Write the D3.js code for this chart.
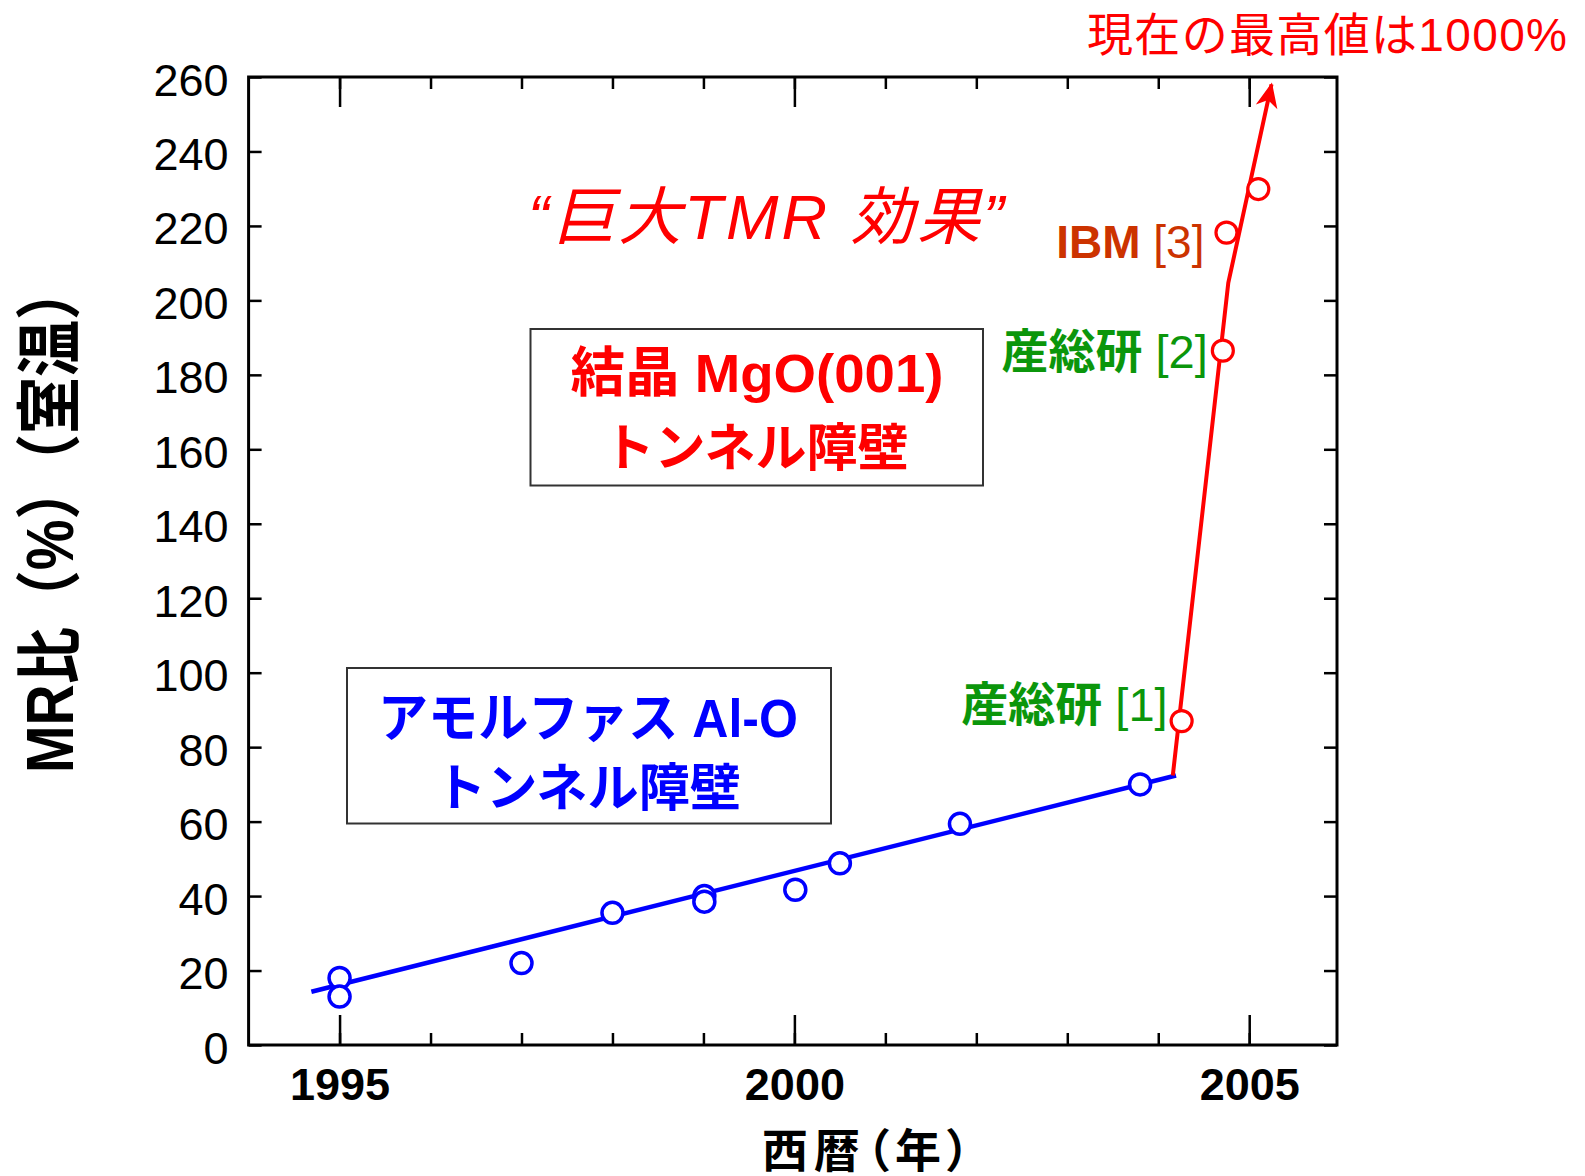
<!DOCTYPE html>
<html>
<head>
<meta charset="utf-8">
<script src="https://cdn.jsdelivr.net/npm/d3@7"></script>
<style>
  body { margin: 0; background: #fff; }
  text { font-family: "Liberation Sans", Arial, "Noto Sans CJK JP", sans-serif; }
  .axis line { stroke: #000; stroke-width: 2.5; }
  .axis path { display: none; }
</style>
</head>
<body>
<svg id="chart" width="1585" height="1176"></svg>
<script>
// amorphous Al-O barrier (blue)
var blueYear = [1995, 1995, 1997, 1998, 1999.01, 1999.01, 2000.01, 2000.5, 2001.82, 2003.8];
var blueMR = [18, 13, 22, 35.5, 40, 38.5, 41.7, 48.8, 59.4, 70];
var blueFitYear = [1994.69, 2004.195];
var blueFitMR = [14.3, 72.4];

// crystalline MgO(001) barrier (red)
var redYear = [2004.257, 2004.71, 2004.75, 2005.1];
var redMR = [87, 186.5, 218.2, 229.9];
var redTrendYear = [2004.16, 2004.77, 2005.245];
var redTrendMR = [72.4, 204.7, 258];

// axes
var xDomain = [1994, 2005.965];
var yTicks = [0, 20, 40, 60, 80, 100, 120, 140, 160, 180, 200, 220, 240, 260];
var xMinorTicks = [1995, 1996, 1997, 1998, 1999, 2000, 2001, 2002, 2003, 2004, 2005];
var xMajorTicks = [1995, 2000, 2005];

var svg = d3.select('#chart');

var x = d3.scaleLinear().domain(xDomain).range([248.6, 1337]);
var y = d3.scaleLinear().domain([0, 260]).range([1045, 77]);

// frame
svg.append('rect')
    .attr('x', x.range()[0])
    .attr('y', y.range()[1])
    .attr('width', x.range()[1] - x.range()[0])
    .attr('height', y.range()[0] - y.range()[1])
    .attr('fill', 'none')
    .attr('stroke', '#000')
    .attr('stroke-width', 3);

// bottom ticks
svg.append('g').attr('class', 'axis')
    .attr('transform', 'translate(0,' + y(0) + ')')
    .call(d3.axisBottom(x).tickValues(xMinorTicks).tickSizeInner(-12).tickSizeOuter(0).tickFormat(''));
var xAxisMajor = svg.append('g').attr('class', 'axis')
    .attr('transform', 'translate(0,' + y(0) + ')')
    .call(d3.axisBottom(x).tickValues(xMajorTicks).tickSizeInner(-30).tickSizeOuter(0)
        .tickPadding(23).tickFormat(d3.format('d')));
xAxisMajor.selectAll('text')
    .attr('fill', '#000')
    .style('font-size', '45px')
    .style('font-weight', 'bold');

// top ticks
svg.append('g').attr('class', 'axis')
    .attr('transform', 'translate(0,' + y(260) + ')')
    .call(d3.axisTop(x).tickValues(xMinorTicks).tickSizeInner(-12).tickSizeOuter(0).tickFormat(''));
svg.append('g').attr('class', 'axis')
    .attr('transform', 'translate(0,' + y(260) + ')')
    .call(d3.axisTop(x).tickValues(xMajorTicks).tickSizeInner(-30).tickSizeOuter(0).tickFormat(''));

// left ticks + labels
var yAxis = svg.append('g').attr('class', 'axis')
    .attr('transform', 'translate(' + x(xDomain[0]) + ',0)')
    .call(d3.axisLeft(y).tickValues(yTicks).tickSizeInner(-13).tickSizeOuter(0).tickPadding(20));
yAxis.selectAll('text')
    .attr('fill', '#000')
    .attr('dy', '0.4em')
    .style('font-size', '45px');

// right ticks
svg.append('g').attr('class', 'axis')
    .attr('transform', 'translate(' + x(xDomain[1]) + ',0)')
    .call(d3.axisRight(y).tickValues(yTicks).tickSizeInner(-13).tickSizeOuter(0).tickFormat(''));

// axis titles
svg.append('text')
    .attr('x', 866)
    .attr('y', 1167)
    .attr('text-anchor', 'middle')
    .attr('textLength', 208)
    .attr('lengthAdjust', 'spacing')
    .style('font-size', '46px')
    .style('font-weight', 'bold')
    .style('font-feature-settings', '"palt"')
    .text('西暦（年）');

svg.append('text')
    .attr('transform', 'translate(73,518) rotate(-90)')
    .attr('text-anchor', 'middle')
    .attr('textLength', 510)
    .attr('lengthAdjust', 'spacingAndGlyphs')
    .style('font-size', '66px')
    .style('font-weight', 'bold')
    .text('MR比（%）（室温）');

// blue fit line
var line = d3.line()
    .x(function(d) { return x(d[0]); })
    .y(function(d) { return y(d[1]); });

svg.append('path')
    .datum(d3.zip(blueFitYear, blueFitMR))
    .attr('d', line)
    .attr('fill', 'none')
    .attr('stroke', '#0000ff')
    .attr('stroke-width', 4.5);

// red trend with arrow
svg.append('defs').append('marker')
    .attr('id', 'arrow')
    .attr('markerUnits', 'userSpaceOnUse')
    .attr('viewBox', '-24 -12 26 24')
    .attr('markerWidth', 26)
    .attr('markerHeight', 24)
    .attr('refX', 0)
    .attr('refY', 0)
    .attr('orient', 'auto')
    .append('path')
    .attr('d', 'M-23,-11 L2,0 L-23,11 L-16,0 Z')
    .attr('fill', '#ff0000');

svg.append('path')
    .datum(d3.zip(redTrendYear, redTrendMR))
    .attr('d', line)
    .attr('fill', 'none')
    .attr('stroke', '#ff0000')
    .attr('stroke-width', 4)
    .attr('marker-end', 'url(#arrow)');

// points
svg.append('g').selectAll('circle')
    .data(d3.zip(blueYear, blueMR))
    .enter().append('circle')
    .attr('cx', function(d) { return x(d[0]); })
    .attr('cy', function(d) { return y(d[1]); })
    .attr('r', 10.5)
    .attr('fill', '#fff')
    .attr('stroke', '#0000ff')
    .attr('stroke-width', 3.5);

svg.append('g').selectAll('circle')
    .data(d3.zip(redYear, redMR))
    .enter().append('circle')
    .attr('cx', function(d) { return x(d[0]); })
    .attr('cy', function(d) { return y(d[1]); })
    .attr('r', 10.5)
    .attr('fill', '#fff')
    .attr('stroke', '#ff0000')
    .attr('stroke-width', 3.2);

// point labels
var pointLabels = [
    { i: 0, name: '産総研', ref: '[1]', color: '#0b960b', dx: -14, dy: 0 },
    { i: 1, name: '産総研', ref: '[2]', color: '#0b960b', dx: -15, dy: 17 },
    { i: 2, name: 'IBM', ref: '[3]', color: '#cc3300', dx: -22, dy: 25 }
];
pointLabels.forEach(function(p) {
    var t = svg.append('text')
        .attr('x', x(redYear[p.i]) + p.dx)
        .attr('y', y(redMR[p.i]) + p.dy)
        .attr('text-anchor', 'end')
        .attr('fill', p.color)
        .style('font-size', p.name === 'IBM' ? '46px' : '47px');
    t.append('tspan').style('font-weight', 'bold').text(p.name);
    t.append('tspan').text(' ' + p.ref);
});

// top annotation
svg.append('text')
    .attr('x', 1087)
    .attr('y', 51)
    .attr('textLength', 480)
    .attr('lengthAdjust', 'spacing')
    .attr('fill', '#ff0000')
    .style('font-size', '46px')
    .text('現在の最高値は1000%');

svg.append('text')
    .attr('x', 528)
    .attr('y', 239)
    .attr('textLength', 476)
    .attr('lengthAdjust', 'spacing')
    .attr('fill', '#ff0000')
    .style('font-size', '63px')
    .style('font-style', 'italic')
    .text('“巨大TMR 効果”');

// boxes
function box(x0, y0, x1, y1, color, lines) {
    svg.append('rect')
        .attr('x', x0).attr('y', y0)
        .attr('width', x1 - x0).attr('height', y1 - y0)
        .attr('fill', '#fff')
        .attr('stroke', '#333')
        .attr('stroke-width', 2);
    lines.forEach(function(l) {
        svg.append('text')
            .attr('x', l.cx)
            .attr('y', l.y)
            .attr('text-anchor', 'middle')
            .attr('textLength', l.w)
            .attr('lengthAdjust', 'spacingAndGlyphs')
            .attr('fill', color)
            .style('font-size', l.fs + 'px')
            .style('font-weight', 'bold')
            .text(l.text);
    });
}

box(530.5, 329, 983, 485.5, '#ff0000', [
    { text: '結晶 MgO(001)', cx: 757, y: 392, w: 373, fs: 54 },
    { text: 'トンネル障壁', cx: 756, y: 466, w: 305, fs: 51 }
]);
box(347, 668, 831, 823.5, '#0000ff', [
    { text: 'アモルファス Al-O', cx: 588, y: 736.5, w: 420, fs: 53 },
    { text: 'トンネル障壁', cx: 588, y: 806, w: 306, fs: 51 }
]);
</script>
</body>
</html>
